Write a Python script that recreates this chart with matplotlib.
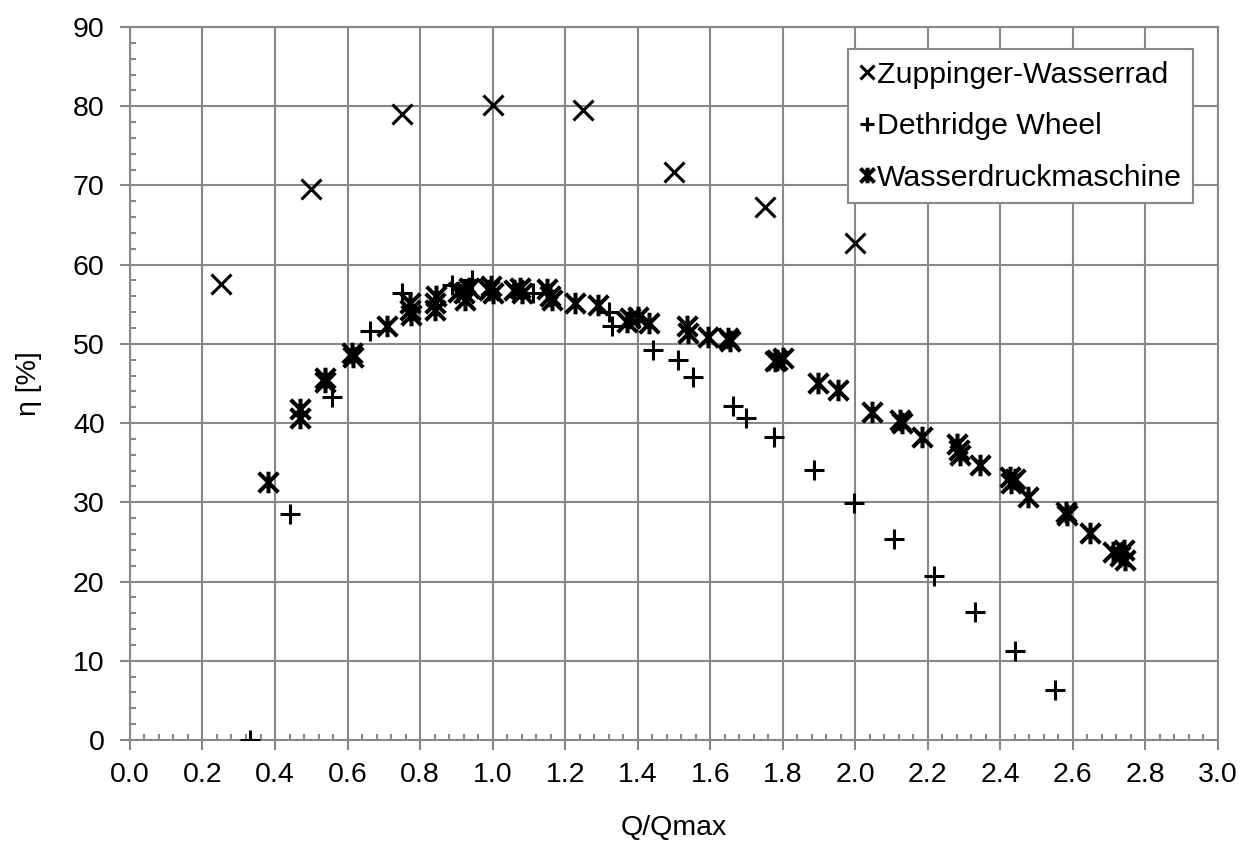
import matplotlib
matplotlib.use("Agg")
import matplotlib.pyplot as plt
from matplotlib.path import Path
from matplotlib.ticker import MultipleLocator
import numpy as np

plt.rcParams['font.family'] = ['Liberation Sans', 'DejaVu Sans']

zup_x = [0.25, 0.50, 0.75, 1.00, 1.25, 1.50, 1.75, 2.00]
zup_y = [57.5, 69.5, 79.0, 80.2, 79.5, 71.7, 67.3, 62.7]

deth_x = [0.33, 0.44, 0.557, 0.662, 0.75, 0.887, 0.943, 1.11, 1.32, 1.33, 1.443, 1.51,
          1.553, 1.663, 1.70, 1.775, 1.885, 1.997, 2.108, 2.218, 2.33, 2.44, 2.55]
deth_y = [0.0, 28.5, 43.3, 51.6, 56.4, 57.4, 58.0, 56.4, 54.0, 52.2, 49.2, 48.0,
          45.8, 42.2, 40.6, 38.2, 34.1, 29.9, 25.4, 20.7, 16.2, 11.2, 6.3]

wdm_x = [0.382, 0.469, 0.469, 0.538, 0.538, 0.611, 0.615, 0.708, 0.772, 0.772, 0.775,
         0.841, 0.841, 0.845, 0.905, 0.92, 0.925, 0.935, 0.99, 0.995, 1.00, 1.06, 1.076,
         1.08, 1.15, 1.159, 1.165, 1.228, 1.29, 1.37, 1.38, 1.40, 1.43, 1.536, 1.54,
         1.594, 1.65, 1.655, 1.78, 1.785, 1.80, 1.898, 1.953, 2.047, 2.124, 2.13, 2.184,
         2.28, 2.285, 2.29, 2.345, 2.428, 2.43, 2.44, 2.477, 2.58, 2.585, 2.648, 2.712,
         2.73, 2.74, 2.745]
wdm_y = [32.6, 41.8, 40.6, 45.7, 45.2, 48.8, 48.4, 52.2, 54.3, 55.2, 53.6,
         55.2, 54.3, 56.0, 56.6, 56.4, 55.6, 57.0, 56.8, 57.3, 56.4, 56.8, 57.1,
         56.4, 56.9, 56.0, 55.5, 55.2, 54.9, 52.8, 53.3, 53.4, 52.6, 52.2, 51.4,
         50.9, 50.7, 50.3, 47.8, 48.0, 48.2, 45.1, 44.2, 41.4, 40.4, 40.0, 38.3,
         37.4, 36.6, 36.0, 34.7, 33.2, 32.4, 33.0, 30.7, 28.8, 28.4, 26.1, 23.7,
         23.2, 24.0, 22.7]

xticks = np.round(np.arange(0, 3.01, 0.2), 1)
yticks = np.arange(0, 91, 10)

# asterisk marker: X plus vertical line
ast = Path([(-1, -1), (1, 1), (-1, 1), (1, -1), (0, -1.1), (0, 1.1)],
           [Path.MOVETO, Path.LINETO, Path.MOVETO, Path.LINETO, Path.MOVETO, Path.LINETO])

FS = 20.5
LFS = 21.8
fig = plt.figure(figsize=(12.4, 8.43), dpi=100)
ax = fig.add_axes([0.1048, 0.1222, 0.8774, 0.8458])

gray = '#888888'
ax.plot(zup_x, zup_y, linestyle='none', marker='x', color='black', markersize=14,
        markeredgewidth=2.2, label='Zuppinger-Wasserrad', zorder=3)
ax.plot(deth_x, deth_y, linestyle='none', marker='+', color='black', markersize=14.5,
        markeredgewidth=2.2, label='Dethridge Wheel', zorder=3)
ax.plot(wdm_x, wdm_y, linestyle='none', marker=ast, color='black', markersize=15.5,
        markeredgewidth=2.9, label='Wasserdruckmaschine', zorder=3)

ax.set_xlim(0, 3.0)
ax.set_ylim(0, 90)
ax.set_xticks(xticks)
ax.set_xticklabels([f'{v:.1f}' for v in xticks])
ax.set_yticks(yticks)
ax.set_yticklabels([str(v) for v in yticks])
ax.xaxis.set_minor_locator(MultipleLocator(0.04))
ax.yaxis.set_minor_locator(MultipleLocator(2))
ax.grid(True, which='major', color=gray, linewidth=1.5)
ax.set_axisbelow(True)
for s in ax.spines.values():
    s.set_color(gray)
    s.set_linewidth(1.5)
ax.tick_params(which='major', direction='out', length=7.2, width=1.5, color=gray,
               labelsize=FS, labelcolor='black')
ax.tick_params(axis='x', which='major', pad=9)
ax.tick_params(axis='y', which='major', pad=11)
ax.tick_params(which='minor', direction='in', length=4.5, width=1.5, color=gray)

ax.set_xlabel('Q/Qmax', fontsize=FS, labelpad=19)
ax.set_ylabel('η [%]', fontsize=FS, labelpad=22)

leg = ax.legend(loc='upper right', bbox_to_anchor=(0.9775, 0.969), borderaxespad=0,
                fontsize=LFS, frameon=True, fancybox=False, framealpha=1, edgecolor=gray,
                handlelength=0.5, handletextpad=0.08, borderpad=0.38, labelspacing=0.78,
                markerscale=0.72)
leg.get_frame().set_linewidth(1.5)

fig.savefig('out.png', dpi=100)
